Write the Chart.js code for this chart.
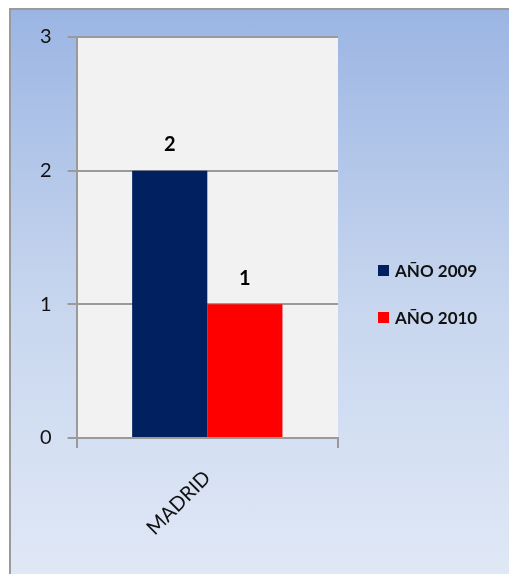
<!DOCTYPE html>
<html>
<head>
<meta charset="utf-8">
<script src="https://cdn.jsdelivr.net/npm/chart.js@4.4.1/dist/chart.umd.min.js"></script>
<style>
  html, body { margin: 0; padding: 0; background: #fff; }
  #wrap { position: relative; width: 509px; height: 574px; overflow: hidden; }
  #frame { position: absolute; left: 9px; top: 8px; width: 500px; height: 566px;
    border-left: 2px solid #9a9a9a; border-top: 2px solid #9a9a9a; box-sizing: border-box;
    background: linear-gradient(to bottom, #9bb5e3 0%, #c6d5ee 50%, #e0e8f6 100%); }
  #chart { position: absolute; left: 0; top: 0; }
  #legend { position: absolute; left: 378px; top: 259px; font-family: Lato, "Liberation Sans", sans-serif;
    font-weight: bold; font-size: 17px; color: #111; }
  .item { display: flex; align-items: center; height: 22px; margin-bottom: 25px; }
  .dot { width: 11px; height: 11px; margin-right: 6px; }
</style>
</head>
<body>
<div id="wrap">
  <div id="frame"></div>
  <canvas id="chart" width="509" height="574"></canvas>
  <div id="legend"></div>
</div>
<script>
  // ── Data ──
  var categories = ['MADRID'];
  var series = ['AÑO 2009', 'AÑO 2010'];
  var values2009 = [2];
  var values2010 = [1];
  var yTicks = [0, 1, 2, 3];
  var colors = ['#002060', '#ff0000'];

  var FONT = 'Lato, "Liberation Sans", sans-serif';

  /* legend in html */
  var leg = document.getElementById('legend');
  leg.innerHTML = series.map(function(s, i) {
    return '<div class="item"><span class="dot" style="background:' + colors[i] + '"></span>' + s + '</div>';
  }).join('');

  /* plot area fill */
  var plotBg = {
    id: 'plotBg',
    beforeDraw: function(chart) {
      var a = chart.chartArea, ctx = chart.ctx;
      ctx.save();
      ctx.fillStyle = '#f2f2f2';
      ctx.fillRect(a.left, a.top, a.right - a.left, a.bottom - a.top);
      ctx.restore();
    }
  };

  /* value labels above bars */
  var barLabels = {
    id: 'barLabels',
    afterDatasetsDraw: function(chart) {
      var ctx = chart.ctx;
      ctx.save();
      ctx.font = 'bold 20px ' + FONT;
      ctx.fillStyle = '#000';
      ctx.textAlign = 'center';
      ctx.textBaseline = 'middle';
      chart.data.datasets.forEach(function(ds, di) {
        chart.getDatasetMeta(di).data.forEach(function(bar, i) {
          ctx.fillText(String(ds.data[i]), bar.x, bar.y - 26);
        });
      });
      ctx.restore();
    }
  };

  new Chart(document.getElementById('chart').getContext('2d'), {
    type: 'bar',
    data: {
      labels: categories,
      datasets: [
        { label: series[0], data: values2009, backgroundColor: colors[0] },
        { label: series[1], data: values2010, backgroundColor: colors[1] }
      ]
    },
    options: {
      responsive: false,
      animation: false,
      categoryPercentage: 0.575,
      barPercentage: 1,
      layout: { padding: { left: 24, top: 37, right: 171, bottom: 16 } },
      plugins: { legend: { display: false }, tooltip: { enabled: false } },
      scales: {
        x: {
          grid: { offset: true, drawOnChartArea: false, color: '#9a9a9a', lineWidth: 2, tickLength: 10 },
          border: { color: '#9a9a9a', width: 2 },
          ticks: { minRotation: 45, maxRotation: 45, padding: 18, color: '#111',
            font: { family: FONT, size: 20 } }
        },
        y: {
          min: yTicks[0],
          max: yTicks[yTicks.length - 1],
          afterBuildTicks: function(axis) { axis.ticks = yTicks.map(function(v) { return { value: v }; }); },
          grid: { color: '#9a9a9a', lineWidth: 2, tickLength: 9 },
          border: { color: '#9a9a9a', width: 2 },
          ticks: { padding: 16, color: '#111', font: { family: FONT, size: 20 } }
        }
      }
    },
    plugins: [plotBg, barLabels]
  });
</script>
</body>
</html>
